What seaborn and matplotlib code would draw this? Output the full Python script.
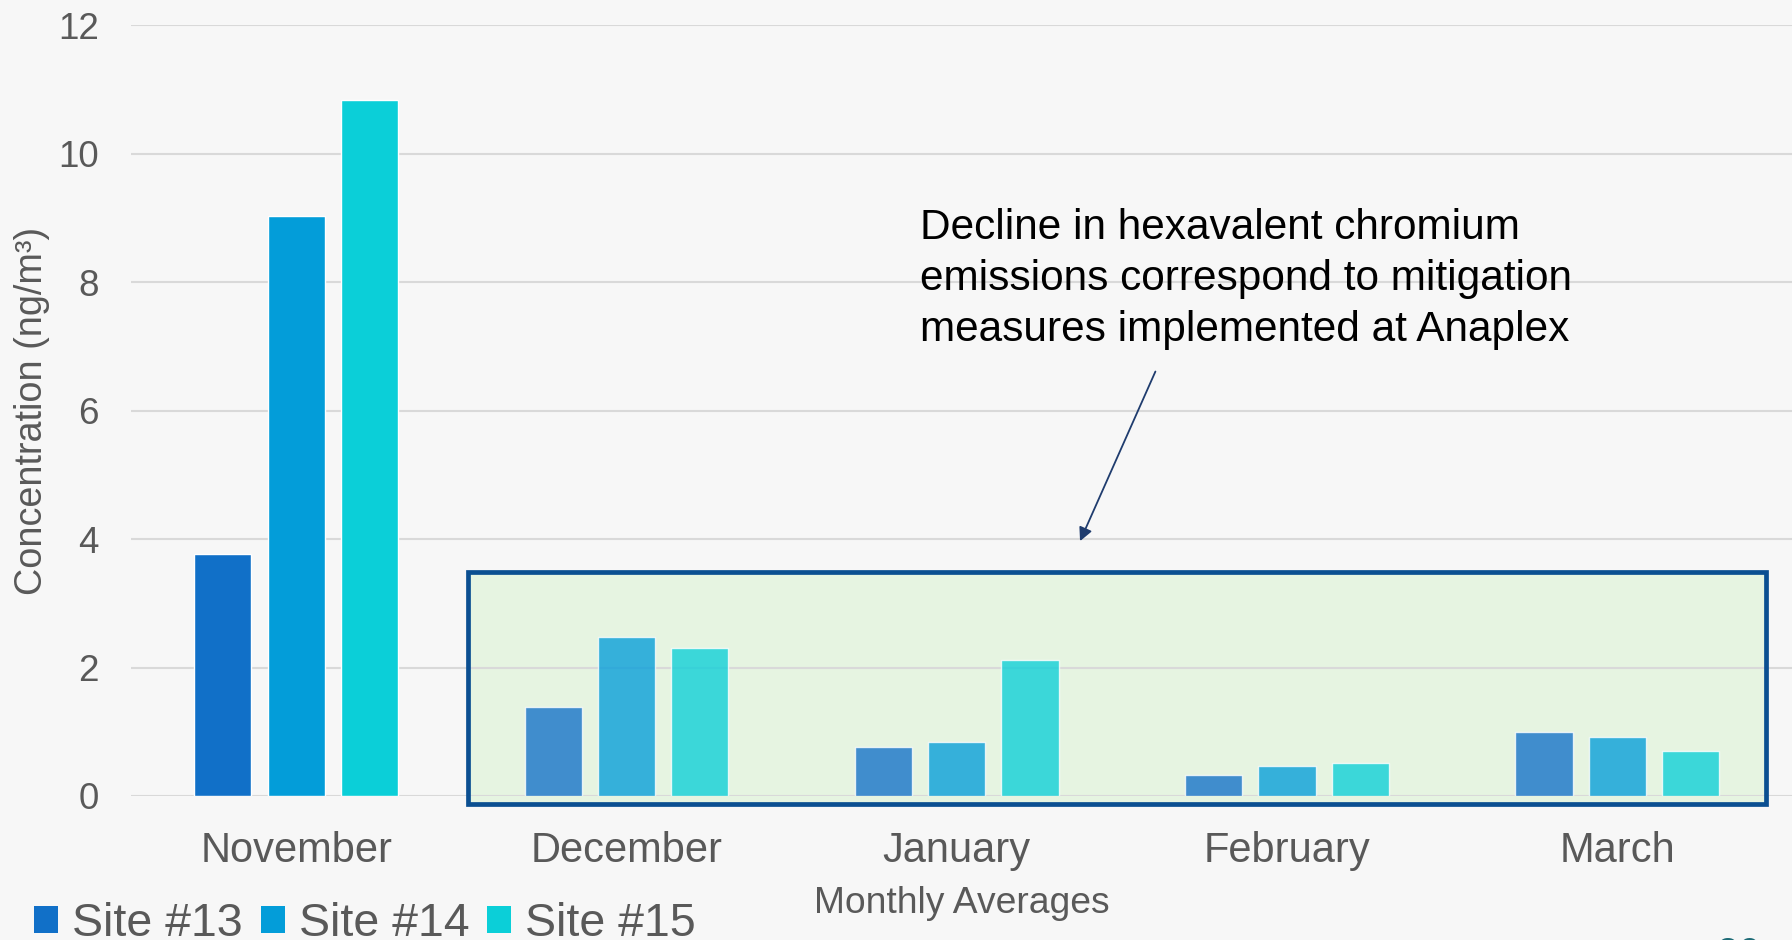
import matplotlib
matplotlib.use("Agg")
import matplotlib.pyplot as plt
from matplotlib.patches import Patch, Rectangle
import pandas as pd
import seaborn as sns

months = ["November", "December", "January", "February", "March"]
sites = ["Site #13", "Site #14", "Site #15"]
site13 = [3.77, 1.39, 0.76, 0.33, 1.00]
site14 = [9.03, 2.48, 0.84, 0.47, 0.92]
site15 = [10.84, 2.31, 2.12, 0.52, 0.70]
site_colors = ["#1170c8", "#039dd9", "#0bcfd8"]

note = ("Decline in hexavalent chromium\n"
        "emissions correspond to mitigation\n"
        "measures implemented at Anaplex")

df = pd.DataFrame({
    "month": months * 3,
    "site": [s for s in sites for _ in months],
    "value": site13 + site14 + site15,
})

sns.set_style("white")
plt.rcParams["font.family"] = ["Liberation Sans", "DejaVu Sans"]
grey = "#595959"

fig = plt.figure(figsize=(17.92, 9.40), dpi=100, facecolor="#f7f7f7")
ax = fig.add_axes([0.0731, 0.1532, 0.9269, 0.8197])
ax.set_facecolor("none")

sns.barplot(data=df, x="month", y="value", hue="site", palette=site_colors,
            saturation=1, width=0.666, gap=0.22, legend=False, ax=ax, zorder=2)

# bars inside the highlighted box look washed out
for p in ax.patches:
    if p.get_x() > 0.5:
        p.set_alpha(0.78)

ax.set_xlim(-0.5, 4.529)
ax.set_ylim(0, 12)
ax.set_yticks([0, 2, 4, 6, 8, 10, 12])
ax.set_axisbelow(True)
ax.grid(axis="y", color="#d9d9d9", lw=1.5)
ax.grid(axis="x", visible=False)
sns.despine(ax=ax, left=True, bottom=True)
ax.tick_params(axis="y", length=0, pad=23, labelsize=26.5, labelcolor=grey)
ax.tick_params(axis="x", length=0, pad=25, labelsize=30, labelcolor=grey)

ax.set_xlabel("Monthly Averages", fontsize=26.8, color=grey, labelpad=11)
ax.set_ylabel("Concentration (ng/m³)", fontsize=27.2, color=grey, labelpad=6)

# highlight box
ax.add_patch(Rectangle((0.52, -0.13), 3.93, 3.62, facecolor="#e6f4e1",
                       edgecolor="none", zorder=0.3, clip_on=False))
ax.add_patch(Rectangle((0.52, -0.13), 3.93, 3.62, fill=False,
                       edgecolor="#0b4f91", lw=3.4, zorder=4, clip_on=False))

ax.text(1.889, 9.16, note, fontsize=30.5, color="black", ha="left", va="top",
        linespacing=1.36)
ax.annotate("", xy=(2.37, 3.93), xytext=(2.605, 6.65),
            arrowprops=dict(arrowstyle="-|>", color="#1f3c6e", lw=1.3,
                            mutation_scale=20))

handles = [Patch(facecolor=c, edgecolor="none") for c in site_colors]
fig.legend(handles, sites, loc="center left", bbox_to_anchor=(0.019, 0.017),
           ncol=3, frameon=False, fontsize=33.5, labelcolor=grey,
           handlelength=0.52, handleheight=0.52, handletextpad=0.3,
           columnspacing=0.38, borderpad=0, borderaxespad=0)

fig.text(1717 / 1792, 0.003, "20", fontsize=28, color="#1d6b76",
         ha="left", va="top")

fig.savefig("out.png", dpi=100, facecolor=fig.get_facecolor())
